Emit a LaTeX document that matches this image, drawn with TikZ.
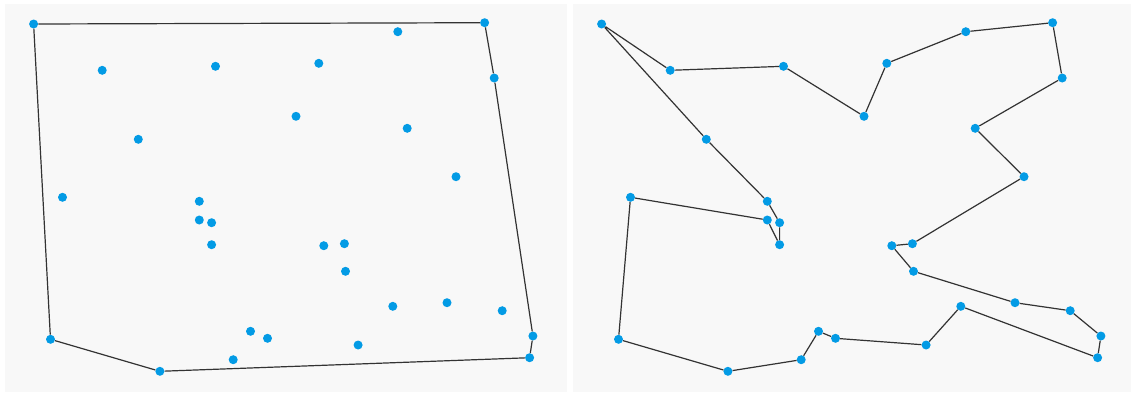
\documentclass[tikz,border=0pt]{standalone}
\usepackage{tikz}
\usetikzlibrary{positioning}

\definecolor{panelgray}{HTML}{F8F8F8}
\definecolor{citydot}{HTML}{039BE5}
\definecolor{edgegray}{HTML}{333333}

% city positions (pixels from the top-left corner of the left panel)
\newcommand{\citylist}{1/33.6/24, 2/484.6/22.7, 3/397.8/31.7, 4/102.2/70.3,
  5/215.5/66.3, 6/318.8/63.3, 7/494.2/78, 8/296/116.3, 9/407.2/128.3,
  10/138.3/139.3, 11/456/176.7, 12/62.5/197.3, 13/199.3/201.3,
  14/199.3/220, 15/211.6/222.7, 16/211.6/244.7, 17/323.8/245.7,
  18/344.4/243.7, 19/345.5/271.3, 20/392.8/306.3, 21/447/302.7,
  22/502.2/310.7, 23/532.9/336, 24/529.6/357.7, 25/250.5/331.3,
  26/267.5/338.3, 27/358.1/345, 28/233.2/359.7, 29/159.9/371.3,
  30/50.5/339.3}

\begin{document}
\begin{tikzpicture}[
    x=1pt, y=-1pt,
    panel/.style={fill=panelgray, draw=none},
    city/.style={circle, fill=citydot, draw=none, inner sep=0pt, minimum size=9pt},
    route/.style={draw=edgegray, line width=1.2pt, line join=round}
]
\useasboundingbox (0,0) rectangle (1131,392);

% Panels
\fill[white] (0,0) rectangle (1131,392);
\path[panel] (5,4) rectangle (567,392);
\path[panel] (573,4) rectangle (1131,392);

% Cities, left panel (hull) and right panel (tour)
\foreach \i/\x/\y in \citylist {
  \node[city] (l\i) at (\x,\y) {};
  \node[city] (r\i) at (\x+568,\y) {};
}

% Convex hull
\draw[route] (l1) -- (l2) -- (l7) -- (l23) -- (l24) -- (l29) -- (l30) -- (l1);

% Tour
\draw[route] (r1) -- (r4) -- (r5) -- (r8) -- (r6) -- (r3) -- (r2) -- (r7)
  -- (r9) -- (r11) -- (r18) -- (r17) -- (r19) -- (r21) -- (r22) -- (r23)
  -- (r24) -- (r20) -- (r27) -- (r26) -- (r25) -- (r28) -- (r29) -- (r30)
  -- (r12) -- (r14) -- (r16) -- (r15) -- (r13) -- (r10) -- (r1);

\end{tikzpicture}
\end{document}
